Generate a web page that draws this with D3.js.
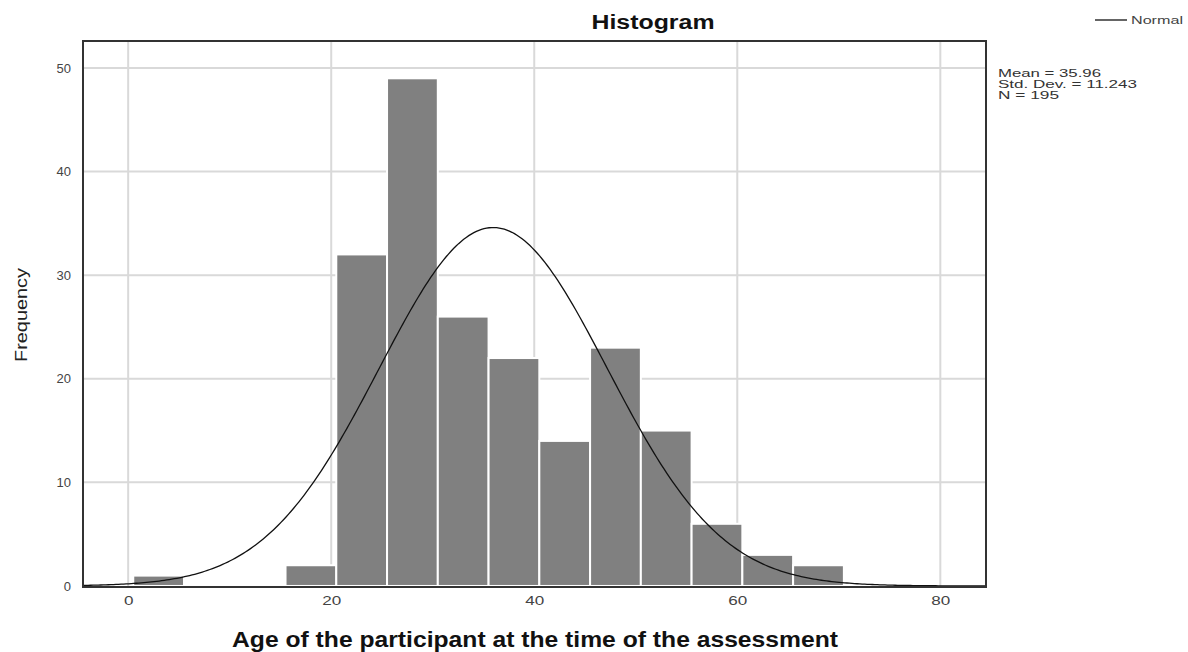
<!DOCTYPE html>
<html>
<head>
<meta charset="utf-8">
<script src="https://cdn.jsdelivr.net/npm/d3@7"></script>
<style>
  body { margin: 0; background: #fff; }
  text { font-family: "Liberation Sans", Arial, sans-serif; }
</style>
</head>
<body>
<div id="chart"></div>
<script>
// histogram bins (age, width 5) and counts
var binStarts = [0.5, 15.5, 20.5, 25.5, 30.5, 35.5, 40.5, 45.5, 50.5, 55.5, 60.5, 65.5];
var counts = [1, 2, 32, 49, 26, 22, 14, 23, 15, 6, 3, 2];
var binWidth = 5;
var xTicks = [0, 20, 40, 60, 80];
var yTicks = [0, 10, 20, 30, 40, 50];
var statMean = 35.96, statSd = 11.243, statN = 195;
var statLines = ['Mean = 35.96', 'Std. Dev. = 11.243', 'N = 195'];

var W = 1188, H = 652;
var plot = { left: 83, top: 41, right: 986, bottom: 587 };

var svg = d3.select('#chart').append('svg')
  .attr('width', W).attr('height', H);

var x = d3.scaleLinear().domain([-4.45, 84.5]).range([plot.left, plot.right]);
var y = d3.scaleLinear().domain([-0.1, 52.6]).range([plot.bottom, plot.top]);

// grid
var g = svg.append('g');
g.selectAll('.vgrid').data(xTicks).enter().append('line')
  .attr('x1', function (d) { return x(d); }).attr('x2', function (d) { return x(d); })
  .attr('y1', plot.top).attr('y2', plot.bottom)
  .attr('stroke', '#d9d9d9').attr('stroke-width', 2);
g.selectAll('.hgrid').data(yTicks.slice(1)).enter().append('line')
  .attr('x1', plot.left).attr('x2', plot.right)
  .attr('y1', function (d) { return y(d); }).attr('y2', function (d) { return y(d); })
  .attr('stroke', '#d9d9d9').attr('stroke-width', 2);

// bars
g.selectAll('.bar').data(counts).enter().append('rect')
  .attr('x', function (d, i) { return x(binStarts[i]); })
  .attr('width', function (d, i) { return x(binStarts[i] + binWidth) - x(binStarts[i]); })
  .attr('y', function (d) { return y(d); })
  .attr('height', function (d) { return y(0) - y(d); })
  .attr('fill', '#808080')
  .attr('stroke', '#ffffff').attr('stroke-width', 2);

// fitted normal curve from the reported mean / sd
var curvePts = d3.range(-4.45, 84.6, 0.25).map(function (v) {
  var z = (v - statMean) / statSd;
  return [v, statN * binWidth * Math.exp(-0.5 * z * z) / (statSd * Math.sqrt(2 * Math.PI))];
});
g.append('path').datum(curvePts)
  .attr('d', d3.line().x(function (d) { return x(d[0]); }).y(function (d) { return y(d[1]); }))
  .attr('fill', 'none').attr('stroke', '#111').attr('stroke-width', 1.3);

// frame
svg.append('rect')
  .attr('x', plot.left).attr('y', plot.top)
  .attr('width', plot.right - plot.left).attr('height', plot.bottom - plot.top)
  .attr('fill', 'none').attr('stroke', '#333').attr('stroke-width', 2);

// axes (labels only, SPSS style)
var xAxis = svg.append('g').attr('transform', 'translate(0,' + plot.bottom + ')')
  .call(d3.axisBottom(x).tickValues(xTicks).tickSize(0).tickPadding(9));
var yAxis = svg.append('g').attr('transform', 'translate(' + plot.left + ',0)')
  .call(d3.axisLeft(y).tickValues(yTicks).tickSize(0).tickPadding(12));
[xAxis, yAxis].forEach(function (a) {
  a.select('.domain').remove();
  a.selectAll('text').attr('fill', '#444').style('font-size', '13px')
    .style('font-family', '"Liberation Sans", Arial, sans-serif');
});
xAxis.selectAll('text')
  .attr('textLength', function (d) { return String(d).length * 9.5; })
  .attr('lengthAdjust', 'spacingAndGlyphs');

// titles
svg.append('text').attr('x', 653).attr('y', 29).attr('text-anchor', 'middle')
  .style('font-size', '20px').style('font-weight', 'bold').attr('fill', '#111')
  .attr('textLength', 123).attr('lengthAdjust', 'spacingAndGlyphs')
  .text('Histogram');
svg.append('text').attr('x', 535).attr('y', 647).attr('text-anchor', 'middle')
  .style('font-size', '22px').style('font-weight', 'bold').attr('fill', '#111')
  .attr('textLength', 606).attr('lengthAdjust', 'spacingAndGlyphs')
  .text('Age of the participant at the time of the assessment');
svg.append('text').attr('transform', 'translate(27,315) rotate(-90)').attr('text-anchor', 'middle')
  .style('font-size', '17px').attr('fill', '#222')
  .attr('textLength', 94).attr('lengthAdjust', 'spacingAndGlyphs')
  .text('Frequency');

// legend
svg.append('line').attr('x1', 1095).attr('x2', 1127).attr('y1', 20).attr('y2', 20)
  .attr('stroke', '#111').attr('stroke-width', 1.3);
svg.append('text').attr('x', 1131).attr('y', 24)
  .style('font-size', '11px').attr('fill', '#444')
  .attr('textLength', 52).attr('lengthAdjust', 'spacingAndGlyphs')
  .text('Normal');

// stats
var statWidths = [103, 139, 61];
svg.append('g').selectAll('text').data(statLines).enter().append('text')
  .attr('x', 998).attr('y', function (d, i) { return 77 + i * 11; })
  .style('font-size', '11px').attr('fill', '#333')
  .attr('textLength', function (d, i) { return statWidths[i]; })
  .attr('lengthAdjust', 'spacingAndGlyphs')
  .text(function (d) { return d; });
</script>
</body>
</html>
